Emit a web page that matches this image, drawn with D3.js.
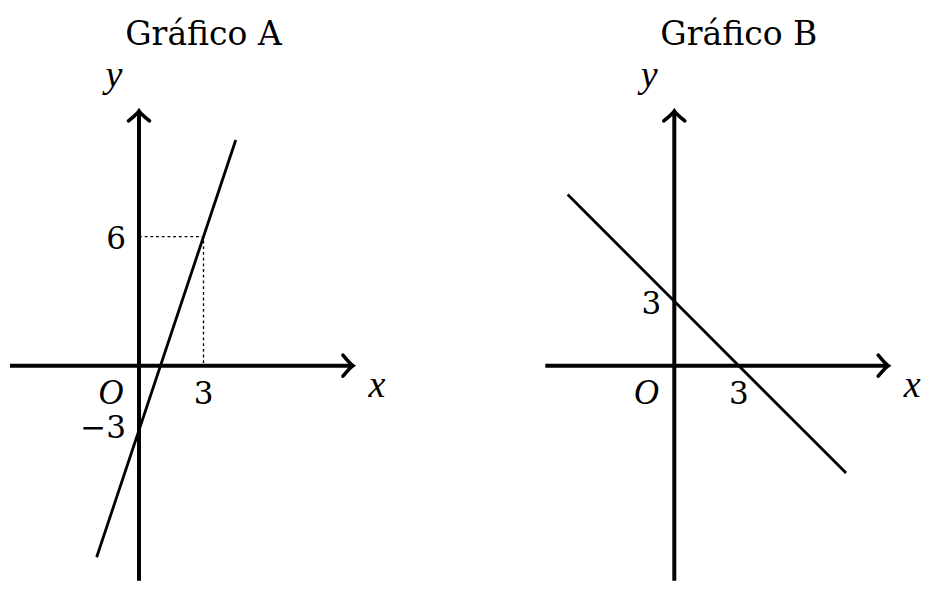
<!DOCTYPE html>
<html>
<head>
<meta charset="UTF-8">
<script src="https://d3js.org/d3.v7.min.js"></script>
</head>
<body style="margin:0">
<script>
  // axis extents in data units (same for both panels)
  const xExtent = [-6, 9.95];
  const yExtent = [-10, 11.85];

  // Gráfico A: y = 3x - 3
  const lineA = [{ x: -1.97, y: -8.91 }, { x: 4.5, y: 10.5 }];
  const guideA = [{ x: 0, y: 6 }, { x: 3, y: 6 }, { x: 3, y: 0 }];
  const xTicksA = [{ v: 3, label: "3" }];
  const yTicksA = [{ v: 6, label: "6", dy: 12 }, { v: -3, label: "\u22123", dy: 8 }];

  // Gráfico B: y = -x + 3
  const lineB = [{ x: -4.96, y: 7.96 }, { x: 7.99, y: -4.99 }];
  const xTicksB = [{ v: 3, label: "3" }];
  const yTicksB = [{ v: 3, label: "3", dy: 13 }];

  const W = 943, H = 591, unit = 21.5;

  const svg = d3.select("body").append("svg")
    .attr("width", W).attr("height", H);

  // open curved arrow tip like TikZ "to"
  svg.append("defs").append("marker")
    .attr("id", "tip")
    .attr("markerUnits", "userSpaceOnUse")
    .attr("viewBox", "-14 -14 18 28")
    .attr("markerWidth", 18).attr("markerHeight", 28)
    .attr("refX", 0).attr("refY", 0)
    .attr("orient", "auto")
    .append("path")
    .attr("d", "M-10,-10.5 Q-3,-2 0,0 Q-3,2 -10,10.5")
    .attr("fill", "none")
    .attr("stroke", "#000")
    .attr("stroke-width", 3.6)
    .attr("stroke-linecap", "round");

  const panels = [
    { title: "Gráfico A", ox: 139, oy: 365.7, line: lineA, guide: guideA, xTicks: xTicksA, yTicks: yTicksA },
    { title: "Gráfico B", ox: 674.3, oy: 365.7, line: lineB, guide: null, xTicks: xTicksB, yTicks: yTicksB }
  ];

  // upright text in DejaVu Serif, math italics in Liberation Serif
  function txt(g, size, italic) {
    const fam = italic ? "Liberation Serif" : "DejaVu Serif";
    const t = g.append("text")
      .attr("font-family", fam)
      .style("font-family", "'" + fam + "'")
      .style("font-size", size + "px");
    if (italic) t.style("font-style", "italic");
    return t;
  }

  panels.forEach(p => {
    const x = d3.scaleLinear().domain([0, 1]).range([p.ox, p.ox + unit]);
    const y = d3.scaleLinear().domain([0, 1]).range([p.oy, p.oy - unit]);
    const g = svg.append("g");

    // title
    txt(g, 33, false)
      .attr("x", x(3)).attr("y", 45)
      .attr("text-anchor", "middle")
      .text(p.title);

    // dotted guides
    if (p.guide) {
      g.append("path")
        .datum(p.guide)
        .attr("d", d3.line().x(d => x(d.x)).y(d => y(d.y)))
        .attr("fill", "none")
        .attr("stroke", "#000")
        .attr("stroke-width", 1.3)
        .attr("stroke-dasharray", "2.8 2.9");
    }

    // axes
    g.append("line")
      .attr("x1", x(xExtent[0])).attr("y1", y(0))
      .attr("x2", x(xExtent[1])).attr("y2", y(0))
      .attr("stroke", "#000").attr("stroke-width", 4)
      .attr("marker-end", "url(#tip)");
    g.append("line")
      .attr("x1", x(0)).attr("y1", y(yExtent[0]))
      .attr("x2", x(0)).attr("y2", y(yExtent[1]))
      .attr("stroke", "#000").attr("stroke-width", 4)
      .attr("marker-end", "url(#tip)");

    // the line
    g.append("path")
      .datum(p.line)
      .attr("d", d3.line().x(d => x(d.x)).y(d => y(d.y)))
      .attr("fill", "none")
      .attr("stroke", "#000")
      .attr("stroke-width", 2.8);

    // axis names
    txt(g, 38, true)
      .attr("x", x(xExtent[1]) + 24).attr("y", y(0) + 31)
      .attr("text-anchor", "middle")
      .text("x");
    txt(g, 38, true)
      .attr("x", x(0) - 25).attr("y", 87)
      .attr("text-anchor", "middle")
      .text("y");

    // origin
    txt(g, 35, true)
      .attr("x", x(0) - 28).attr("y", y(0) + 38.5)
      .attr("text-anchor", "middle")
      .text("O");

    // tick labels
    p.xTicks.forEach(d => {
      txt(g, 31, false)
        .attr("x", x(d.v)).attr("y", y(0) + 38.5)
        .attr("text-anchor", "middle")
        .text(d.label);
    });
    p.yTicks.forEach(d => {
      txt(g, 31, false)
        .attr("x", x(0) - 13).attr("y", y(d.v) + d.dy)
        .attr("text-anchor", "end")
        .text(d.label);
    });
  });
</script>
</body>
</html>
